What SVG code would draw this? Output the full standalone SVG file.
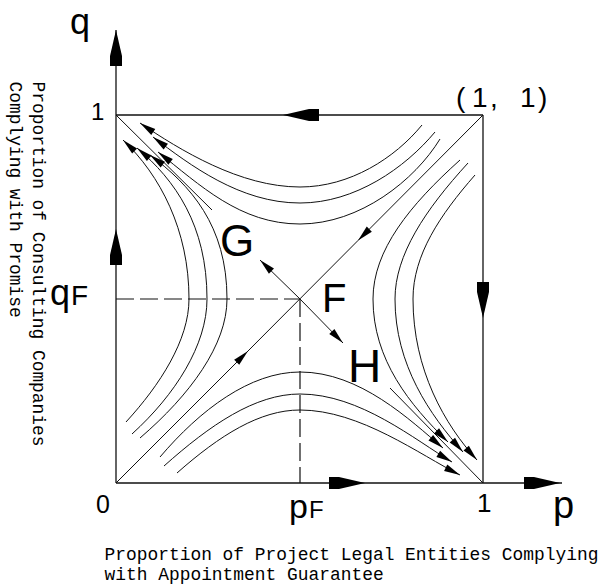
<svg xmlns="http://www.w3.org/2000/svg" xmlns:xlink="http://www.w3.org/1999/xlink" width="598" height="584" viewBox="0 0 598 584">
<style>
.frame{fill:none;stroke:#111;stroke-width:1.3}
.dash{fill:none;stroke:#111;stroke-width:1.2;stroke-dasharray:18 6}
.traj{fill:none;stroke:#111;stroke-width:1}
.ar{marker-end:url(#sm)}
.big{fill:#000}
.lab{font-family:"Liberation Sans",Arial,sans-serif;fill:#000}
.mono{font-family:"Liberation Mono","Courier New",monospace;font-size:17.9px;fill:#000}
</style>
<defs>
<marker id="sm" markerUnits="userSpaceOnUse" markerWidth="18" markerHeight="10" viewBox="-17 -5 18 10" refX="0" refY="0" orient="auto">
<path d="M0,0 L-16,-3.6 L-16,3.6 Z" fill="#000"/>
</marker>
<path id="bigArrow" d="M0,0 L-26,-6 L-36,-6 L-36,6 L-26,6 Z"/>
</defs>

<g id="frame">
<line class="frame" x1="116" y1="30" x2="116" y2="483"/>
<line class="frame" x1="116" y1="483" x2="562" y2="483"/>
<line class="frame" x1="116" y1="115" x2="483" y2="115"/>
<line class="frame" x1="483" y1="115" x2="483" y2="483"/>
<line class="dash" x1="116" y1="299" x2="300" y2="299"/>
<line class="dash" x1="300" y1="299" x2="300" y2="483"/>
</g>

<g id="axis-arrows" class="big">
<use xlink:href="#bigArrow" transform="translate(116,30) rotate(-90)"/>
<use xlink:href="#bigArrow" transform="translate(116,229) rotate(-90)"/>
<use xlink:href="#bigArrow" transform="translate(283,115) rotate(180)"/>
<use xlink:href="#bigArrow" transform="translate(483,318) rotate(90)"/>
<use xlink:href="#bigArrow" transform="translate(365,483)"/>
<use xlink:href="#bigArrow" transform="translate(560,483)"/>
</g>

<g id="connectors">
<path class="traj ar" d="M116,483 L248,351"/>
<path class="traj" d="M248,351 L358,240.5"/>
<path class="traj ar" d="M483,115 L358,240.5"/>
<path class="traj" d="M116,115 L212,210"/>
<path class="traj ar" d="M300,299 L260,260"/>
<path class="traj ar" d="M300,299 L343,343"/>
<path class="traj" d="M390,388 L483,483"/>
<path class="traj ar" d="M422,125 C395,158 350,187 300,187 C240,187 180,150 140,123"/>
<path class="traj ar" d="M435,132 C405,168 355,203 300,203 C240,203 190,165 153,137"/>
<path class="traj ar" d="M440,139 C415,180 360,224 300,224 C240,224 200,185 158,152"/>
<path class="traj ar" d="M126,422 C160,385 189,340 189,299 C189,230 160,175 123,140"/>
<path class="traj ar" d="M132,434 C175,395 207,345 207,299 C207,225 175,180 137,148"/>
<path class="traj ar" d="M140,438 C190,395 227,345 227,299 C227,225 190,185 150,155"/>
<path class="traj ar" d="M460,160 C410,205 373,250 373,299 C373,360 410,405 448,442"/>
<path class="traj ar" d="M468,163 C425,210 395,255 395,299 C395,365 430,415 463,452"/>
<path class="traj ar" d="M475,175 C440,215 413,255 413,299 C413,370 445,425 477,460"/>
<path class="traj ar" d="M160,457 C200,410 250,372 300,372 C360,372 410,420 443,448"/>
<path class="traj ar" d="M164,466 C210,425 255,394 300,394 C360,394 415,440 452,462"/>
<path class="traj ar" d="M177,473 C220,435 260,410 300,410 C360,410 420,455 460,475"/>
</g>

<g id="labels">
<text class="lab" x="70" y="34" font-size="36">q</text>
<text class="lab" x="91" y="120" font-size="24">1</text>
<g id="qF"><text class="lab" x="50" y="305" font-size="36">q</text><text class="lab" x="71" y="305" font-size="28">F</text></g>
<text class="lab" x="96" y="513" font-size="25">0</text>
<g id="pF"><text class="lab" x="289" y="518" font-size="34">p</text><text class="lab" x="309" y="518" font-size="24">F</text></g>
<text class="lab" x="477" y="512" font-size="26">1</text>
<text class="lab" x="553" y="518" font-size="38">p</text>
<text class="lab" font-size="28" y="107"><tspan x="456">(</tspan><tspan x="472">1</tspan><tspan x="490">,</tspan><tspan x="520">1</tspan><tspan x="538">)</tspan></text>
<text class="lab" id="G" x="220" y="256" font-size="44">G</text>
<text class="lab" id="F" x="322" y="312" font-size="40">F</text>
<text class="lab" id="H" x="348" y="382" font-size="46">H</text>
</g>

<g id="axis-titles">
<text class="mono" transform="translate(33,81.5) rotate(90)">Proportion of Consulting Companies</text>
<text class="mono" transform="translate(10,81.5) rotate(90)">Complying with Promise</text>
<text class="mono" x="104.5" y="560">Proportion of Project Legal Entities Complying</text>
<text class="mono" x="104.5" y="580">with Appointment Guarantee</text>
</g>
</svg>
